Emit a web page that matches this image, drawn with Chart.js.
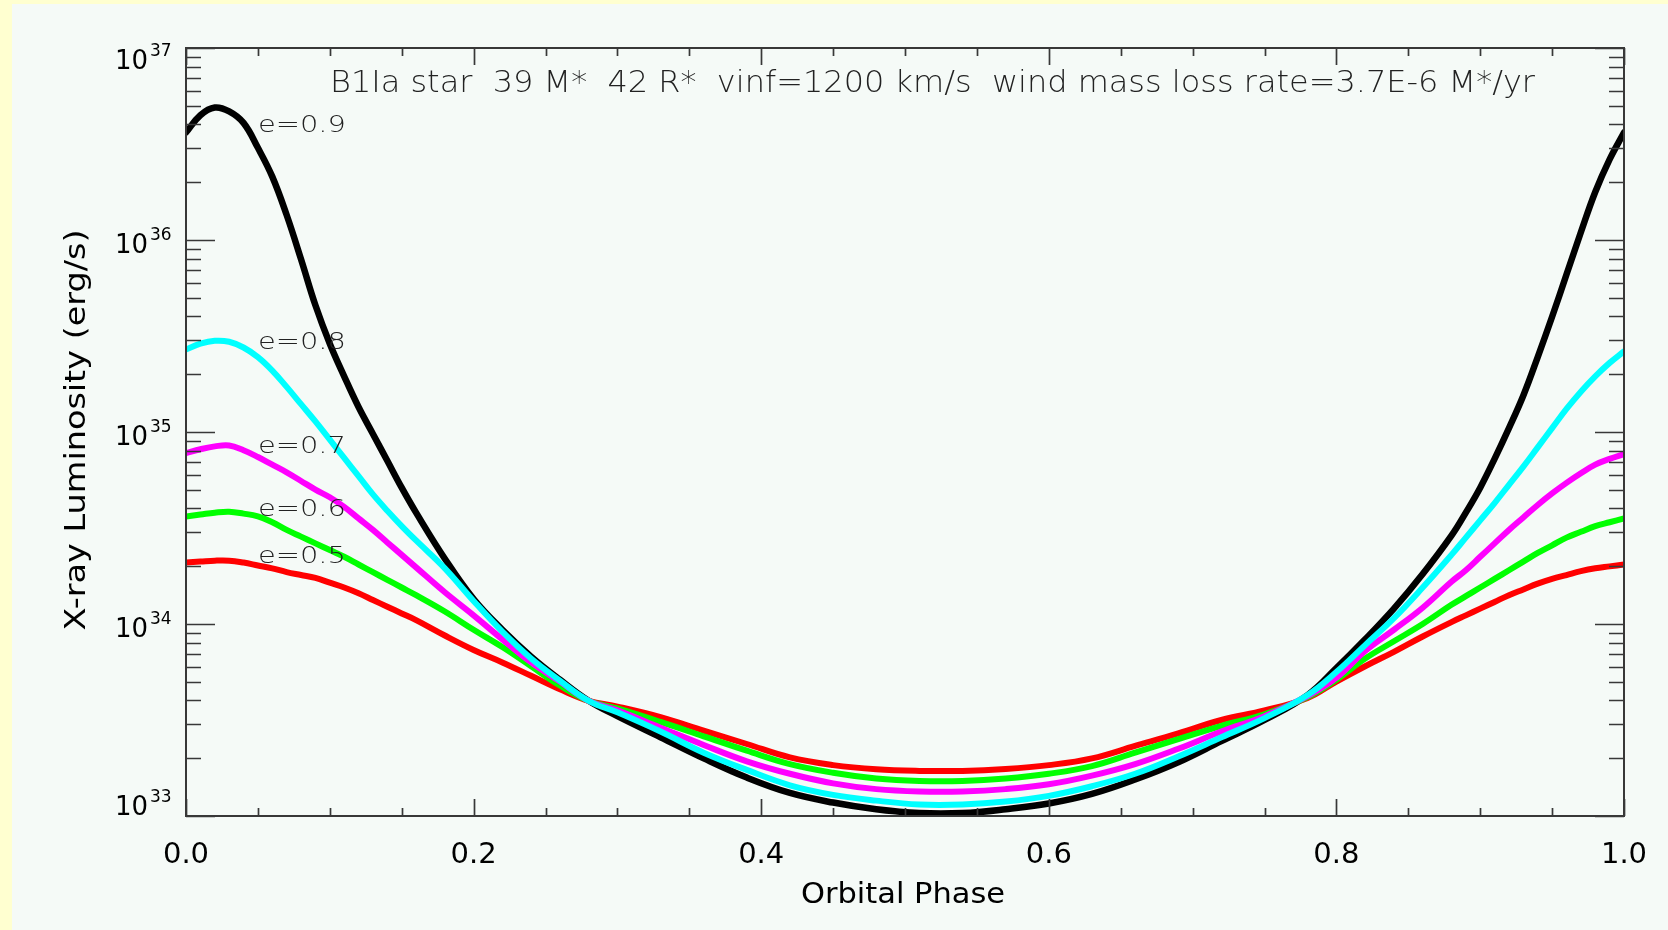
<!DOCTYPE html>
<html>
<head>
<meta charset="utf-8">
<script src="https://cdn.jsdelivr.net/npm/chart.js@4.4.1/dist/chart.umd.min.js"></script>
<style>
  html, body { margin: 0; padding: 0; width: 1668px; height: 930px; overflow: hidden; background: #ffffd0; }
  #wrap { position: absolute; left: 12px; top: 4px; width: 1656px; height: 926px; background: #f5faf7; }
</style>
</head>
<body>
<div id="wrap"><canvas id="c"></canvas></div>
<script>
// ---------- data (log10 of X-ray luminosity, erg/s) ----------
const phase = [0.00,0.01,0.02,0.03,0.04,0.05,0.06,0.07,0.08,0.09,0.10,0.11,0.12,0.13,0.14,0.15,0.16,
  0.18,0.20,0.22,0.24,0.26,0.28,0.30,
  0.33,0.36,0.39,0.42,0.45,0.48,0.51,0.54,0.57,0.60,0.63,0.66,0.69,0.72,0.75,0.78,
  0.80,0.82,0.84,0.86,0.88,
  0.89,0.90,0.91,0.92,0.93,0.94,0.95,0.96,0.97,0.98,0.99,1.00];

const logL_e09 = [36.56,36.65,36.69,36.67,36.61,36.48,36.33,36.13,35.90,35.66,35.46,35.29,35.13,34.99,34.85,34.71,34.58,
  34.34,34.13,33.97,33.83,33.71,33.60,33.52,
  33.41,33.30,33.20,33.12,33.07,33.035,33.015,33.015,33.035,33.065,33.115,33.19,33.28,33.39,33.50,33.63,
  33.77,33.92,34.08,34.26,34.46,
  34.58,34.71,34.86,35.02,35.19,35.39,35.60,35.82,36.04,36.25,36.42,36.56];

const logL_e08 = [35.43,35.46,35.475,35.47,35.44,35.39,35.32,35.235,35.145,35.055,34.96,34.865,34.77,34.675,34.59,34.51,34.435,
  34.29,34.12,33.96,33.82,33.705,33.60,33.54,
  33.44,33.33,33.24,33.16,33.11,33.08,33.06,33.06,33.075,33.105,33.155,33.22,33.31,33.41,33.51,33.63,
  33.75,33.89,34.03,34.19,34.36,
  34.45,34.54,34.63,34.725,34.82,34.92,35.02,35.12,35.21,35.29,35.36,35.42];

const logL_e07 = [34.89,34.91,34.925,34.93,34.905,34.87,34.83,34.79,34.745,34.70,34.66,34.61,34.55,34.49,34.425,34.36,34.295,
  34.165,34.045,33.92,33.80,33.70,33.60,33.55,
  33.46,33.37,33.285,33.22,33.17,33.14,33.128,33.128,33.14,33.165,33.21,33.27,33.35,33.44,33.52,33.625,
  33.72,33.86,33.97,34.085,34.22,
  34.28,34.35,34.42,34.49,34.555,34.62,34.68,34.735,34.785,34.83,34.86,34.885];

const logL_e06 = [34.56,34.57,34.58,34.585,34.575,34.56,34.53,34.49,34.455,34.42,34.385,34.35,34.31,34.27,34.23,34.19,34.15,
  34.065,33.97,33.88,33.78,33.68,33.60,33.56,
  33.49,33.415,33.34,33.27,33.225,33.195,33.182,33.182,33.195,33.22,33.26,33.33,33.40,33.47,33.53,33.62,
  33.71,33.82,33.91,34.00,34.10,
  34.145,34.19,34.235,34.28,34.325,34.37,34.41,34.45,34.48,34.51,34.53,34.55];

const logL_e05 = [34.32,34.325,34.33,34.33,34.32,34.305,34.29,34.27,34.255,34.24,34.215,34.19,34.16,34.125,34.09,34.055,34.02,
  33.94,33.865,33.80,33.73,33.66,33.60,33.57,
  33.515,33.445,33.375,33.305,33.265,33.243,33.235,33.235,33.245,33.265,33.30,33.365,33.43,33.50,33.55,33.615,
  33.70,33.78,33.855,33.935,34.01,
  34.045,34.08,34.115,34.15,34.18,34.21,34.235,34.255,34.275,34.29,34.30,34.31];

const seriesNames = ['e=0.9', 'e=0.8', 'e=0.7', 'e=0.6', 'e=0.5'];
const xTickValues = [0, 0.2, 0.4, 0.6, 0.8, 1.0];
const xTickLabels = ['0.0', '0.2', '0.4', '0.6', '0.8', '1.0'];
const yDecades = [33, 34, 35, 36, 37];
const titleText = 'B1Ia star  39 M*  42 R*  vinf=1200 km/s  wind mass loss rate=3.7E-6 M*/yr';
const xTitle = 'Orbital Phase';
const yTitle = 'X-ray Luminosity (erg/s)';

// ---------- chart ----------
const toPoints = arr => phase.map((p, i) => ({ x: p, y: Math.pow(10, arr[i]) }));
const FONT = '"DejaVu Sans", "Liberation Sans", sans-serif';

function fitText(ctx, text, x, y, targetW, align, font, color) {
  ctx.save();
  ctx.font = font;
  ctx.fillStyle = color;
  ctx.textBaseline = 'alphabetic';
  ctx.textAlign = align;
  const w = ctx.measureText(text).width;
  const s = targetW ? targetW / w : 1;
  ctx.translate(x, y);
  ctx.scale(s, 1);
  ctx.fillText(text, 0, 0);
  ctx.restore();
}

const decor = {
  id: 'decor',
  afterDatasetsDraw(chart) {
    const { ctx, chartArea: a, scales } = chart;
    const xs = scales.x, ys = scales.y;
    ctx.save();
    // frame
    ctx.strokeStyle = '#383838';
    ctx.lineWidth = 2;
    ctx.strokeRect(a.left, a.top, a.right - a.left, a.bottom - a.top);

    // x ticks (inward, bottom and top)
    ctx.lineWidth = 1.7;
    ctx.beginPath();
    for (let k = 0; k <= 20; k++) {
      const v = k / 20;
      const px = Math.round(xs.getPixelForValue(v)) + 0.5;
      const len = (k % 4 === 0) ? 17 : 8;
      ctx.moveTo(px, a.bottom); ctx.lineTo(px, a.bottom - len);
      ctx.moveTo(px, a.top); ctx.lineTo(px, a.top + len);
    }
    // y ticks (log, inward, left and right)
    for (let d = yDecades[0]; d <= yDecades[yDecades.length - 1]; d++) {
      for (let m = 1; m <= 9; m++) {
        if (d === yDecades[yDecades.length - 1] && m > 1) break;
        const py = Math.round(ys.getPixelForValue(m * Math.pow(10, d))) + 0.5;
        const len = (m === 1) ? 29 : 15;
        ctx.moveTo(a.left, py); ctx.lineTo(a.left + len, py);
        ctx.moveTo(a.right, py); ctx.lineTo(a.right - len, py);
      }
    }
    ctx.stroke();

    // x tick labels
    xTickValues.forEach((v, i) => {
      fitText(ctx, xTickLabels[i], xs.getPixelForValue(v), a.bottom + 47, 0, 'center', '29px ' + FONT, '#000');
    });
    // y tick labels: 10 with superscript exponent
    yDecades.forEach(d => {
      const py = ys.getPixelForValue(Math.pow(10, d));
      let base = py + 12.5;
      base = Math.max(a.top + 21, Math.min(a.bottom - 1, base));
      fitText(ctx, '10', a.left - 38, base, 0, 'right', '26px ' + FONT, '#000');
      fitText(ctx, String(d), a.left - 36, base - 13, 0, 'left', '17px ' + FONT, '#000');
    });

    // axis titles
    fitText(ctx, xTitle, (a.left + a.right) / 2 - 2, a.bottom + 87, 204, 'center', '29px ' + FONT, '#000');
    ctx.save();
    ctx.translate(a.left - 101, (a.top + a.bottom) / 2 - 2);
    ctx.rotate(-Math.PI / 2);
    fitText(ctx, yTitle, 0, 0, 401, 'center', '29px ' + FONT, '#000');
    ctx.restore();

    // annotation title inside plot
    fitText(ctx, titleText, a.left + 144, a.top + 44, 1205, 'left', '200 30px ' + FONT, '#222');

    // curve labels at phase 0.05, level of each curve's phase-0 value
    chart.data.datasets.forEach(ds => {
      const lx = xs.getPixelForValue(0.05);
      const ly = ys.getPixelForValue(ds.data[0].y);
      fitText(ctx, ds.label, lx, ly, 88, 'left', '200 23px ' + FONT, '#222');
    });
    ctx.restore();
  }
};

const datasets = [
  { label: seriesNames[0], data: toPoints(logL_e09), borderColor: '#000000', borderWidth: 6.5, order: 5 },
  { label: seriesNames[1], data: toPoints(logL_e08), borderColor: '#00ffff', borderWidth: 6, order: 1 },
  { label: seriesNames[2], data: toPoints(logL_e07), borderColor: '#ff00ff', borderWidth: 6, order: 2 },
  { label: seriesNames[3], data: toPoints(logL_e06), borderColor: '#00ff00', borderWidth: 6, order: 3 },
  { label: seriesNames[4], data: toPoints(logL_e05), borderColor: '#ff0000', borderWidth: 6, order: 4 }
];

new Chart(document.getElementById('c'), {
  type: 'line',
  data: { datasets },
  options: {
    responsive: true,
    maintainAspectRatio: false,
    devicePixelRatio: 1,
    animation: false,
    layout: { padding: { left: 174, top: 44, right: 44, bottom: 114 } },
    elements: {
      point: { radius: 0, hoverRadius: 0 },
      line: { tension: 0.4, borderJoinStyle: 'round', borderCapStyle: 'round', fill: false }
    },
    scales: {
      x: { type: 'linear', min: 0, max: 1, display: false },
      y: { type: 'logarithmic', min: 1e33, max: 1e37, display: false }
    },
    plugins: { legend: { display: false }, tooltip: { enabled: false }, title: { display: false } },
    events: []
  },
  plugins: [decor]
});
</script>
</body>
</html>
